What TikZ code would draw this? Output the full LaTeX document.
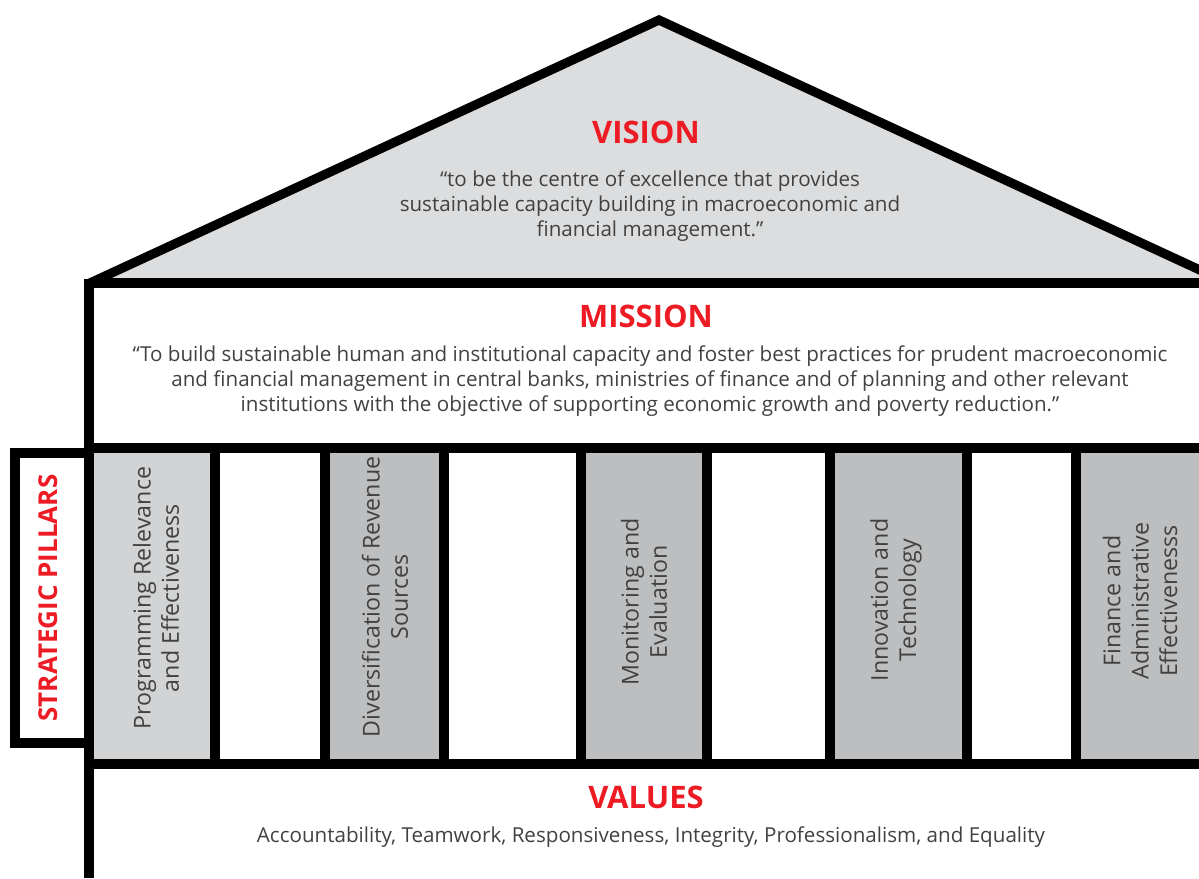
\documentclass[tikz,border=0pt]{standalone}
\usepackage{fontspec}
\setmainfont{Open Sans}
\usetikzlibrary{positioning}

\definecolor{redtitle}{HTML}{ED1C24}
\definecolor{roofgray}{HTML}{DCDDDE}
\definecolor{pillargray}{HTML}{BCBEC0}
\definecolor{firstgray}{HTML}{D1D3D4}
\definecolor{bodytext}{HTML}{414141}

\begin{document}
\begin{tikzpicture}[x=0.5pt, y=-0.5pt,
    wall/.style={line width=4.6pt, line join=miter},
    title/.style={text=redtitle, font=\fontsize{15.5}{18}\selectfont\bfseries},
    bodytxt/.style={text=bodytext, align=center, font=\fontsize{10.3}{12.5}\selectfont},
    pillartxt/.style={text=bodytext, align=center, rotate=90, font=\fontsize{11.6}{14.2}\selectfont},]
    \clip (0,0) rectangle (1199,878);
    % fills
    \fill[roofgray] (90,283) -- (659,20) -- (1228,283) -- cycle;
    \fill[firstgray] (89,448) rectangle (215,764);
    \foreach \a/\b in {325/444, 581/707, 830/967, 1076/1210}
        \fill[pillargray] (\a,448) rectangle (\b,764);
    % lines
    \draw[wall] (90,283) -- (659,20) -- (1228,283);
    \draw[wall] (89,878) -- (89,279);
    \foreach \y in {283, 448, 764}
        \draw[wall] (89,\y) -- (1210,\y);
    \foreach \x in {215, 325, 444, 581, 707, 830, 967, 1076}
        \draw[wall] (\x,448) -- (\x,764);
    \draw[wall] (89,453) -- (15,453) -- (15,743) -- (89,743);
    % nodes
    \node[title] (vision) at (646,132) {VISION};
    \node[bodytxt] (visiontext) at (650,206) {“to be the centre of excellence that provides\\sustainable capacity building in macroeconomic and\\financial management.”};
    \node[title] (mission) at (646,316) {MISSION};
    \node[bodytxt] (missiontext) at (650,381) {“To build sustainable human and institutional capacity and foster best practices for prudent macroeconomic\\and financial management in central banks, ministries of finance and of planning and other relevant\\institutions with the objective of supporting economic growth and poverty reduction.”};
    \node[pillartxt] (programming) at (156,598) {Programming Relevance\\and Effectiveness};
    \node[pillartxt] (revenue) at (385,597) {Diversification of Revenue\\Sources};
    \node[pillartxt] (monitoring) at (644,602) {Monitoring and\\Evaluation};
    \node[pillartxt] (innovation) at (896,600) {Innovation and\\Technology};
    \node[pillartxt] (finance) at (1140,601) {Finance and\\Administrative\\Effectivenesss};
    \node[title, rotate=90, font=\fontsize{13}{15}\selectfont\bfseries] (pillars) at (48,598) {STRATEGIC PILLARS};
    \node[title] (values) at (646,797) {VALUES};
    \node[bodytxt] (valuestext) at (651,837) {Accountability, Teamwork, Responsiveness, Integrity, Professionalism, and Equality};
\end{tikzpicture}
\end{document}
